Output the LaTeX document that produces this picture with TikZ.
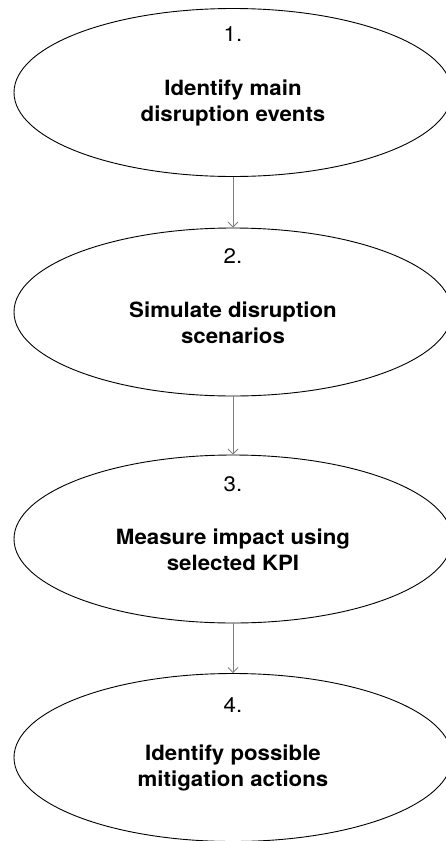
\documentclass[tikz,border=0pt]{standalone}
\usepackage{fontspec}
\setmainfont[FakeStretch=1.06]{TeX Gyre Heros}
\usetikzlibrary{shapes.geometric,arrows.meta}
\begin{document}
\begin{tikzpicture}[x=1pt,y=-1pt,
  stage/.style={ellipse,draw=black,line width=0.9pt,minimum width=438pt,minimum height=168pt,inner sep=0pt},
  num/.style={font=\fontsize{21}{26}\selectfont},
  title/.style={font=\fontsize{21}{26}\selectfont\bfseries,align=center},
  flow/.style={draw=black!50,line width=0.8pt,-{Straight Barb[length=5pt,width=10pt]}}]
\useasboundingbox (0,0) rectangle (445,841);
\node[stage] (e1) at (233,92.5) {};
\node[stage] (e2) at (233,312) {};
\node[stage] (e3) at (233,539) {};
\node[stage] (e4) at (233,757.5) {};
\node[num] (n1) at ([yshift=58pt]e1.center) {1.};
\node[num] (n2) at ([yshift=56pt]e2.center) {2.};
\node[num] (n3) at ([yshift=55pt]e3.center) {3.};
\node[num] (n4) at ([yshift=52pt]e4.center) {4.};
\node[title] (t1) at ([yshift=-10.5pt]e1.center) {Identify main\\disruption events};
\node[title] (t2) at ([yshift=-10.5pt]e2.center) {Simulate disruption\\scenarios};
\node[title] (t3) at ([yshift=-10.5pt]e3.center) {Measure impact using\\selected KPI};
\node[title] (t4) at ([yshift=-10.5pt]e4.center) {Identify possible\\mitigation actions};
\draw[flow] (e1.south) -- (e2.north);
\draw[flow] (e2.south) -- (e3.north);
\draw[flow] (e3.south) -- (e4.north);
\end{tikzpicture}
\end{document}
